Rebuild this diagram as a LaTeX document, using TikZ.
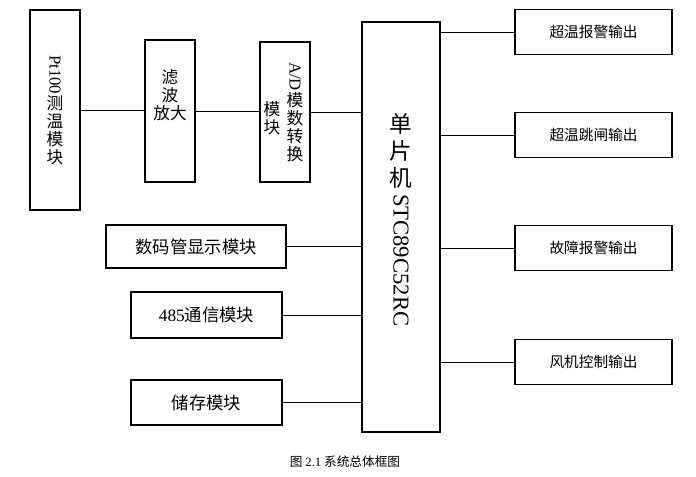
\documentclass[tikz,border=0pt]{standalone}
\usepackage{fontspec}
\setmainfont{Liberation Serif}
\newfontfamily\cjk{Noto Sans CJK SC}
\begin{document}
\begin{tikzpicture}[x=0.75pt,y=-0.75pt,
  blk/.style={draw,line width=0.8pt,inner sep=0pt},
  lbl/.style={font=\cjk\fontsize{11}{13}\selectfont},
  vt/.style={font=\cjk\fontsize{12.5}{13.5}\selectfont,align=center,inner sep=0pt},
  ln/.style={line width=0.6pt}]
\useasboundingbox (0,0) rectangle (696,477);
\node[blk,minimum width=37.5pt,minimum height=150pt] (pt) at (55,110) {};
\node[vt] at (55,110) {\rotatebox{-90}{\rmfamily Pt100}\\测\\温\\模\\块};
\node[blk,minimum width=37.5pt,minimum height=106.5pt] (lb) at (170,111) {};
\node[vt] at (170,95) {滤\\波\\放大};
\node[blk,minimum width=37.5pt,minimum height=105pt] (ad) at (285,112) {};
\node[vt] at (295,112) {\rotatebox{-90}{\rmfamily A/D}\\模\\数\\转\\换};
\node[vt] at (272,118) {模\\块};
\node[blk,minimum width=58.5pt,minimum height=307.5pt] (mcu) at (401,227) {};
\node[font=\cjk\fontsize{17}{20}\selectfont,align=center,inner sep=0pt] at (401,220) {单\\片\\机\\[-14pt]\rotatebox{-90}{\rmfamily STC89C52RC}};
\foreach \n/\y/\t in {r1/32/超温报警输出,r2/135/超温跳闸输出,r3/248/故障报警输出,r4/362/风机控制输出}{
  \node[blk,lbl,minimum width=117.75pt,minimum height=33.75pt] (\n) at (593.5,\y) {\t};
  \draw[ln] (mcu.east|-\n.west) -- (\n.west);}
\node[blk,font=\cjk\fontsize{13}{15}\selectfont,minimum width=135pt,minimum height=32.25pt] (l1) at (196,246.5) {数码管显示模块};
\node[blk,font=\cjk\fontsize{13}{15}\selectfont,minimum width=113.25pt,minimum height=34.5pt] (l2) at (206.5,315) {\rmfamily 485\cjk 通信模块};
\node[blk,font=\cjk\fontsize{13}{15}\selectfont,minimum width=113.25pt,minimum height=33.75pt] (l3) at (206.5,402.5) {储存模块};
\foreach \n in {l1,l2,l3} \draw[ln] (\n.east) -- (mcu.west|-\n.east);
\draw[ln] (pt.east|-0,110) -- (lb.west|-0,110);
\draw[ln] (lb.east|-0,111) -- (ad.west|-0,111);
\draw[ln] (ad.east|-0,112) -- (mcu.west|-0,112);
\node[font=\cjk\fontsize{9.5}{11}\selectfont] (cap) at (345,462) {图 {\rmfamily 2.1} 系统总体框图};
\end{tikzpicture}
\end{document}
